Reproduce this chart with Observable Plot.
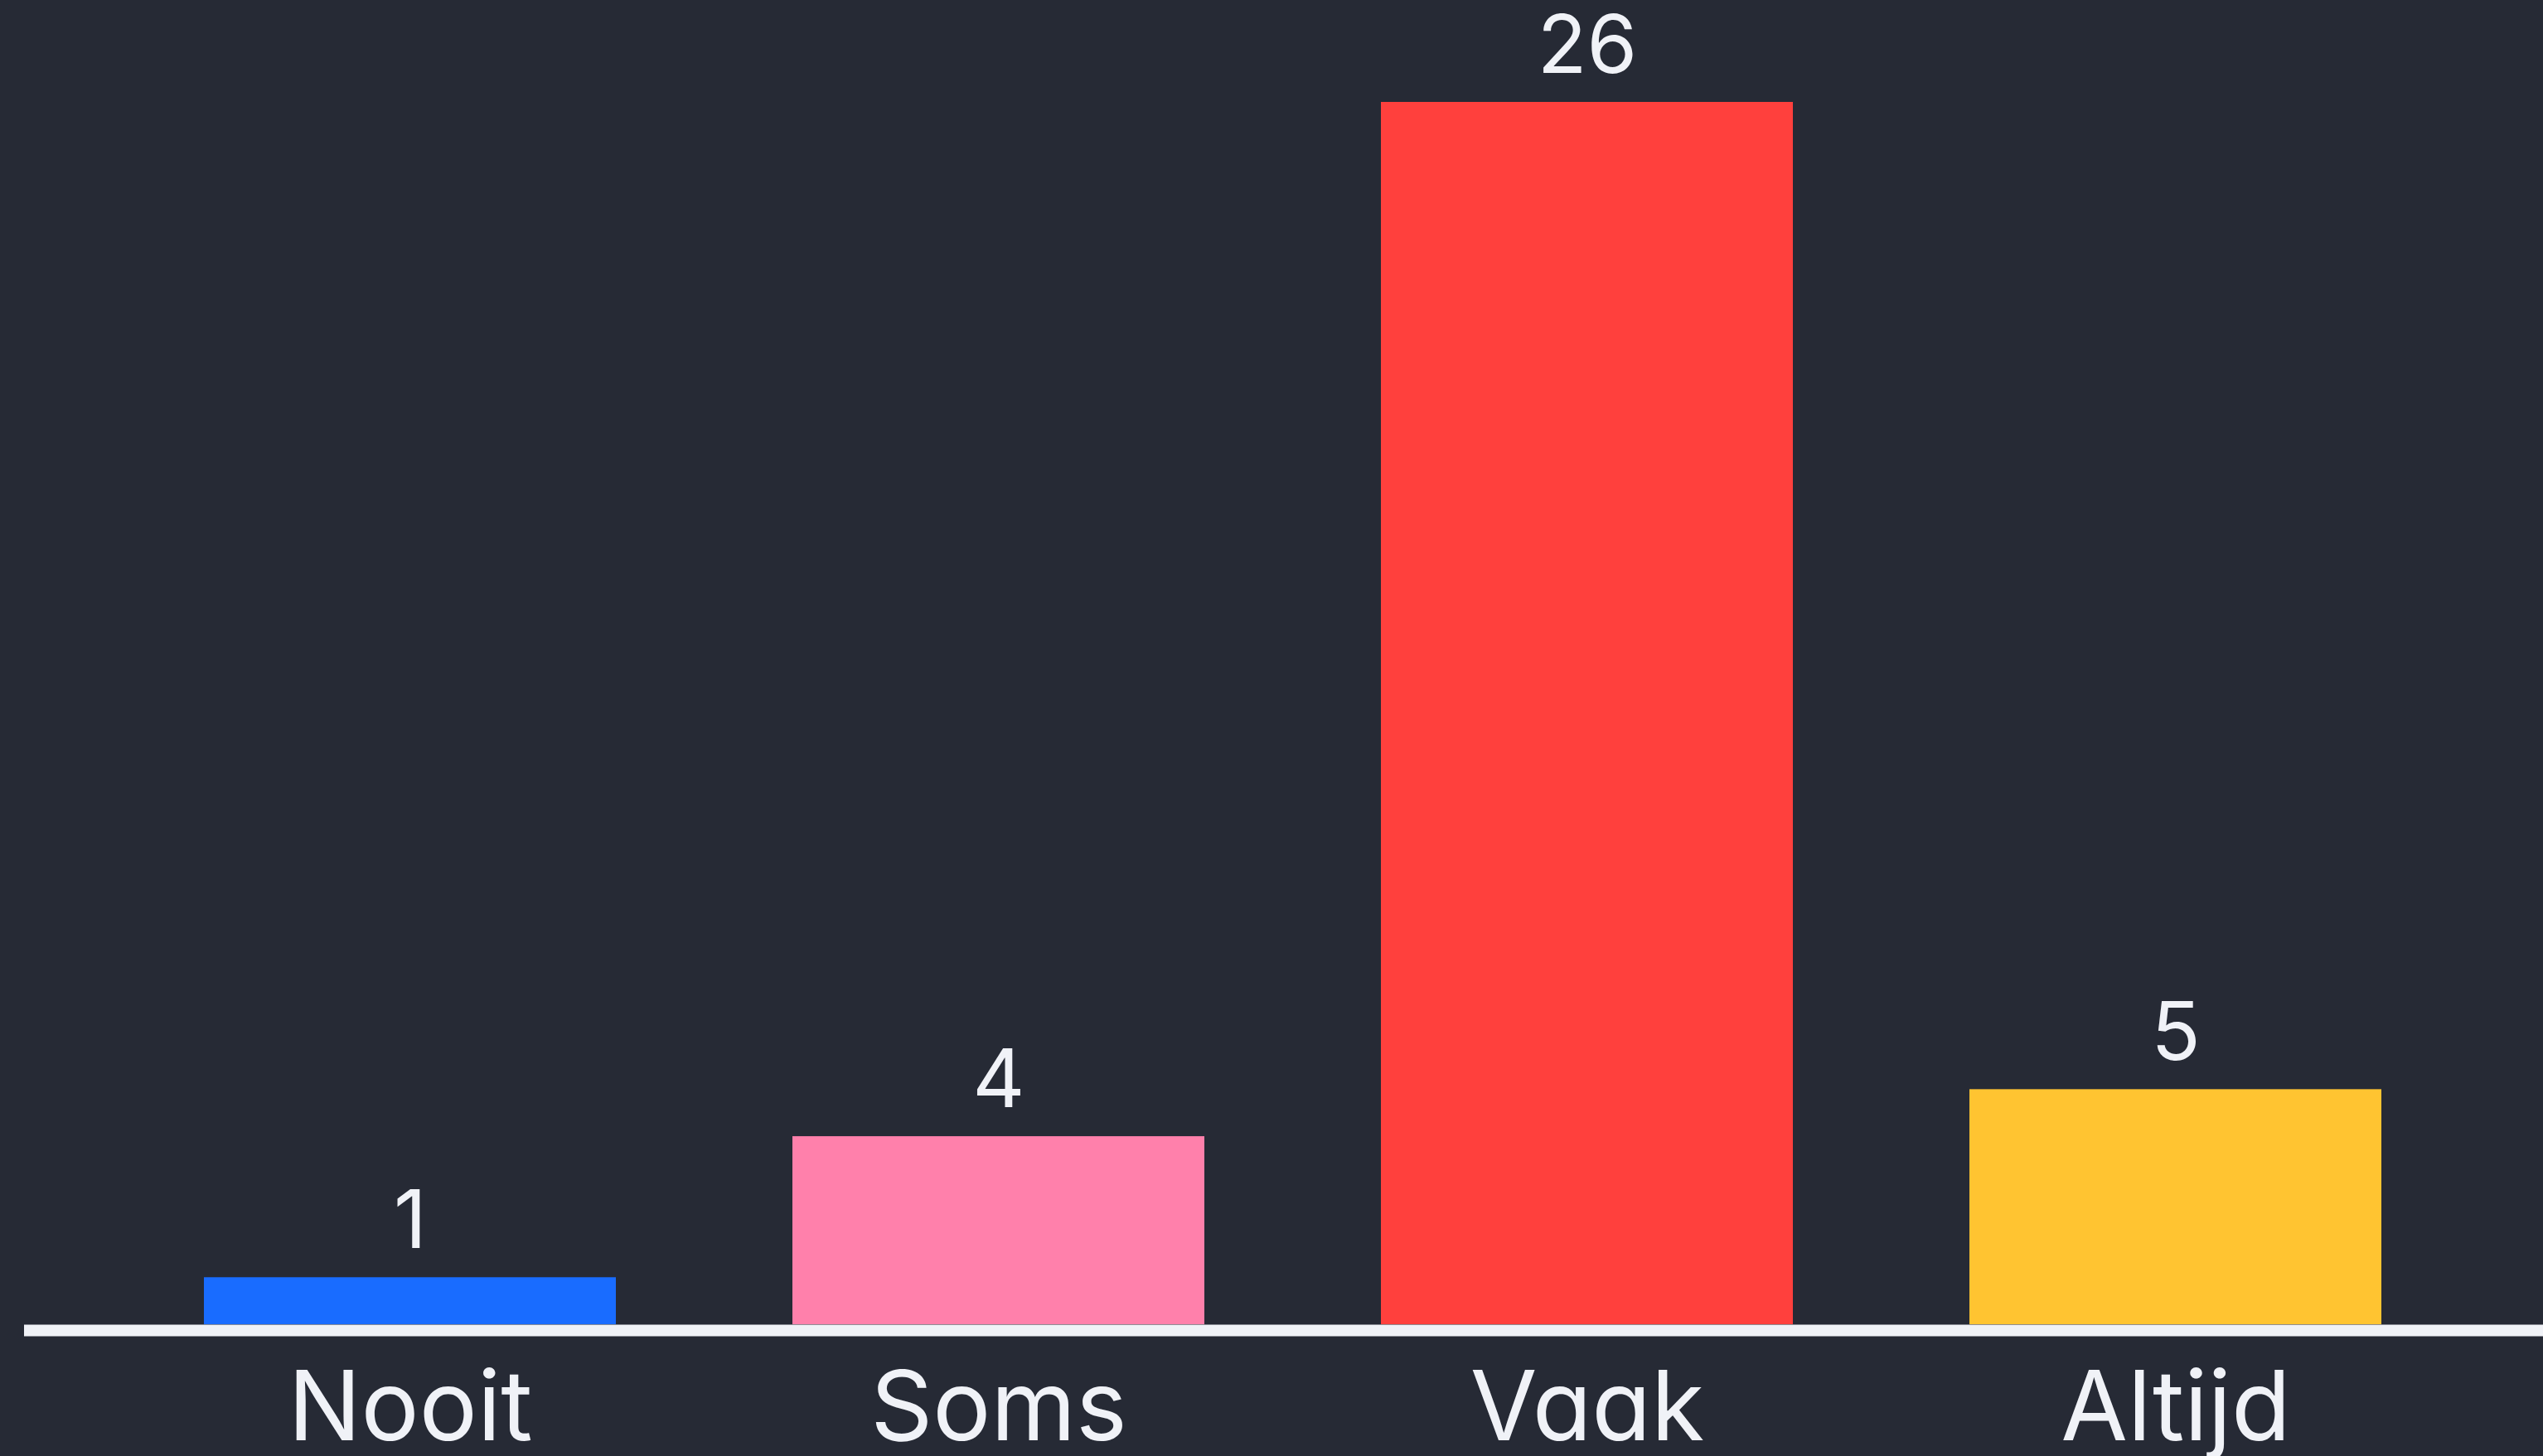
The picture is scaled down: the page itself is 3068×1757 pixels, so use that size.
<!DOCTYPE html>
<html>
<head>
<meta charset="utf-8">
<script src="https://cdn.jsdelivr.net/npm/d3@7"></script>
<script src="https://cdn.jsdelivr.net/npm/@observablehq/plot@0.6"></script>
<style>
  html, body { margin: 0; padding: 0; background: #262a35; overflow: hidden; }
  #chart svg { display: block; }
  #chart text { font-feature-settings: "cv11" 1, "ss01" 0; }
</style>
</head>
<body>
<div id="chart"></div>
<script>
const categories = ["Nooit", "Soms", "Vaak", "Altijd"];
const values = [1, 4, 26, 5];
const colors = ["#196cff", "#ff80ab", "#ff403d", "#ffc431"];

const data = categories.map((c, i) => ({category: c, value: values[i], color: colors[i]}));

const chart = Plot.plot({
  width: 3068,
  height: 1757,
  marginTop: 123,
  marginBottom: 159,
  marginLeft: 29,
  marginRight: 0,
  style: {background: "#262a35", fontFamily: "Inter, 'Noto Sans', sans-serif", color: "#f0f2f7"},
  x: {domain: categories, range: [33, 3086], padding: 0.3, axis: null},
  y: {domain: [0, 26], axis: null},
  marks: [
    Plot.barY(data, {x: "category", y: "value", fill: "color"}),
    Plot.ruleY([0], {stroke: "#f0f2f7", strokeWidth: 14, dy: 7}),
    Plot.text(data, {x: "category", y: "value", text: d => String(d.value), dy: -36, lineAnchor: "bottom", fontSize: 98, fill: "#f0f2f7"}),
    Plot.text(data, {x: "category", y: () => 0, text: "category", dy: 139, lineAnchor: "bottom", fontSize: 117, fill: "#f0f2f7"})
  ]
});
document.getElementById("chart").appendChild(chart);
</script>
</body>
</html>
